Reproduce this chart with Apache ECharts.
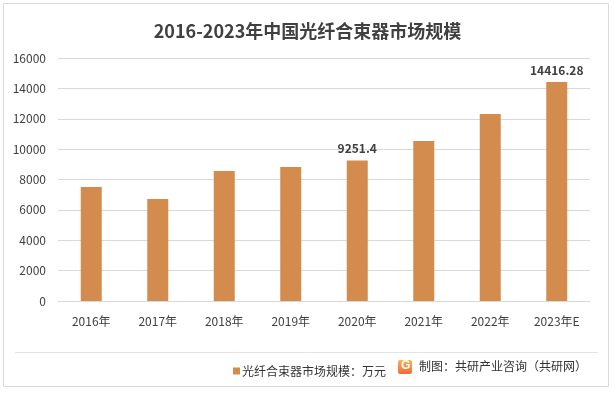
<!DOCTYPE html>
<html>
<head>
<meta charset="utf-8">
<script src="https://cdn.jsdelivr.net/npm/echarts@6/dist/echarts.min.js"></script>
<style>
html,body{margin:0;padding:0;background:#fff;}
#c{width:615px;height:393px;}
</style>
</head>
<body>
<div id="c"></div>
<script>
var titleText = '2016-2023年中国光纤合束器市场规模';
var categories = ['2016年','2017年','2018年','2019年','2020年','2021年','2022年','2023年E'];
var values = [7500, 6720, 8560, 8820, 9251.4, 10540, 12310, 14416.28];
var labeledIdx = [4, 7];
var seriesName = '光纤合束器市场规模：万元';
var sourceText = '制图：共研产业咨询（共研网）';
var yTicks = {min: 0, max: 16000, interval: 2000};

var font = '"Noto Sans CJK SC", "Noto Sans", sans-serif';
var chart = echarts.init(document.getElementById('c'), null, {renderer: 'canvas'});
chart.setOption({
  animation: false,
  backgroundColor: '#fff',
  textStyle: {fontFamily: font},
  title: {
    text: titleText, left: 'center', top: 17,
    textStyle: {fontSize: 18, fontWeight: 'bold', color: '#404040', fontFamily: font}
  },
  grid: {left: 58, right: 25, top: 58, bottom: 92},
  legend: {
    data: [seriesName], left: 228, top: 360, itemWidth: 7, itemHeight: 7, itemGap: 4,
    icon: 'rect', textStyle: {fontSize: 12, color: '#333', fontFamily: font, padding: [0,0,0,-3]}
  },
  xAxis: {
    type: 'category', data: categories,
    axisLine: {lineStyle: {color: '#d9d9d9'}}, axisTick: {show: false},
    axisLabel: {fontSize: 12, color: '#404040', margin: 14, fontFamily: font}
  },
  yAxis: {
    type: 'value', min: yTicks.min, max: yTicks.max, interval: yTicks.interval,
    axisLine: {show: false}, axisTick: {show: false},
    splitLine: {lineStyle: {color: '#d9d9d9'}},
    axisLabel: {fontSize: 12, color: '#404040', margin: 12, fontFamily: font,
      formatter: function(v){ return String(v); }}
  },
  series: [{
    name: seriesName, type: 'bar', barWidth: 21,
    itemStyle: {color: '#D38B4E'},
    data: values.map(function(v, i){
      return {value: v, label: {show: labeledIdx.indexOf(i) >= 0}};
    }),
    label: {position: 'top', distance: 6, fontSize: 12, color: '#404040', fontWeight: 'bold', fontFamily: font}
  }],
  graphic: [
    {type: 'rect', shape: {x: 3.5, y: 3.5, width: 605, height: 383}, style: {fill: 'none', stroke: '#d9d9d9', lineWidth: 1}, silent: true},
    {type: 'line', shape: {x1: 15, y1: 352.5, x2: 598, y2: 352.5}, style: {stroke: '#e3e3e3', lineWidth: 1}, silent: true},
    {type: 'rect', shape: {x: 398, y: 360, width: 14, height: 14, r: 2},
      style: {fill: new echarts.graphic.LinearGradient(0,0,0,1,[{offset:0,color:'#F6B45A'},{offset:1,color:'#EE6A3A'}])}, silent: true},
    {type: 'text', left: 401, top: 360, style: {text: 'G', fill: '#fff', font: 'bold 12px sans-serif'}, silent: true},
    {type: 'text', left: 419, top: 360, style: {text: sourceText, fill: '#333', font: '12px ' + font}, silent: true}
  ]
});
</script>
</body>
</html>
